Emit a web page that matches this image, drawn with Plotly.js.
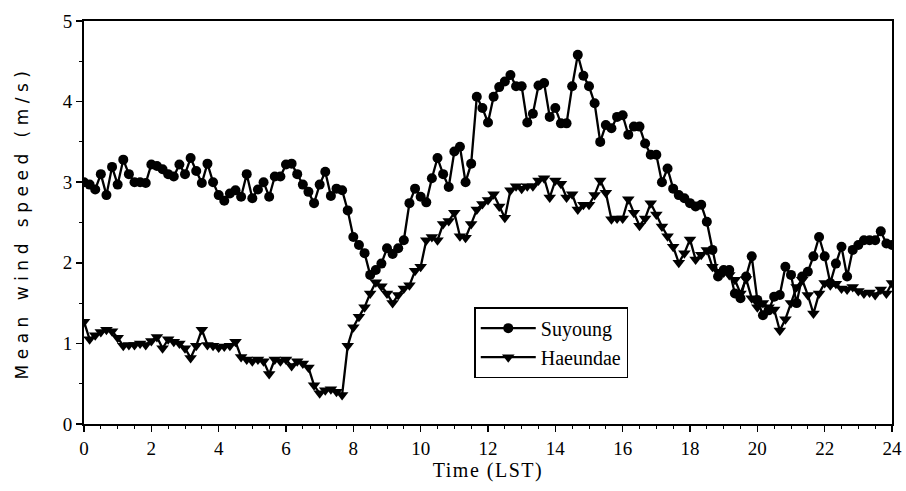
<!DOCTYPE html>
<html>
<head>
<meta charset="utf-8">
<script src="https://cdn.plot.ly/plotly-3.0.1.min.js"></script>
<style>
html,body{margin:0;padding:0;background:#fff;}
#chart{width:906px;height:491px;}
.ytitle{letter-spacing:5.5px;}
.xtitle{letter-spacing:1.5px;}
</style>
</head>
<body>
<div id="chart"></div>
<script>
// Time of each 10-minute mean, in minutes after midnight (LST)
const minutes = [0,10,20,30,40,50,60,70,80,90,100,110,120,130,140,150,160,170,180,190,200,210,220,230,
240,250,260,270,280,290,300,310,320,330,340,350,360,370,380,390,400,410,420,430,440,450,460,470,
480,490,500,510,520,530,540,550,560,570,580,590,600,610,620,630,640,650,660,670,680,690,700,710,
720,730,740,750,760,770,780,790,800,810,820,830,840,850,860,870,880,890,900,910,920,930,940,950,
960,970,980,990,1000,1010,1020,1030,1040,1050,1060,1070,1080,1090,1100,1110,1120,1130,1140,1150,1160,1170,
1180,1190,1200,1210,1220,1230,1240,1250,1260,1270,1280,1290,1300,1310,1320,1330,1340,1350,1360,1370,1380,1390,
1400,1410,1420,1430,1440];

// Mean wind speed (m/s) at Suyoung
const suyoung = [3.0,2.97,2.91,3.1,2.84,3.19,2.97,3.28,3.1,3.0,3.0,2.99,
3.22,3.2,3.16,3.1,3.07,3.22,3.1,3.3,3.14,2.99,3.23,3.0,
2.84,2.77,2.86,2.9,2.82,3.1,2.8,2.91,3.0,2.82,3.07,3.07,
3.22,3.23,3.1,2.97,2.88,2.74,2.97,3.13,2.83,2.92,2.9,2.65,
2.32,2.22,2.12,1.85,1.91,1.99,2.18,2.11,2.18,2.28,2.74,2.92,
2.82,2.75,3.05,3.3,3.1,2.94,3.38,3.44,3.0,3.23,4.06,3.92,
3.74,4.06,4.18,4.25,4.33,4.19,4.19,3.74,3.85,4.2,4.23,3.81,
3.92,3.73,3.73,4.19,4.58,4.32,4.19,3.98,3.5,3.71,3.67,3.81,
3.83,3.59,3.69,3.69,3.48,3.34,3.34,3.0,3.17,2.92,2.84,2.8,
2.74,2.7,2.72,2.51,2.16,1.83,1.91,1.91,1.62,1.56,1.83,2.08,
1.54,1.35,1.41,1.58,1.6,1.95,1.85,1.5,1.83,1.89,2.08,2.32,
2.08,1.75,1.99,2.2,1.83,2.16,2.22,2.28,2.28,2.28,2.39,2.24,
2.22];

// Mean wind speed (m/s) at Haeundae
const haeundae = [1.27,1.05,1.1,1.14,1.17,1.15,
1.07,0.97,0.98,0.98,1.0,0.98,
1.03,1.08,0.94,1.05,1.02,1.0,
0.94,0.82,0.97,1.17,0.98,0.97,
0.95,0.96,0.97,1.02,0.83,0.8,
0.78,0.8,0.78,0.62,0.8,0.78,
0.8,0.72,0.78,0.75,0.7,0.48,
0.38,0.42,0.43,0.4,0.36,0.97,
1.2,1.33,1.45,1.62,1.76,1.71,
1.62,1.5,1.6,1.68,1.72,1.9,
1.95,2.28,2.32,2.28,2.48,2.52,
2.62,2.33,2.31,2.48,2.66,2.73,
2.78,2.85,2.7,2.56,2.9,2.95,
2.92,2.95,2.95,3.02,3.05,2.81,
3.02,2.98,2.81,2.85,2.66,2.72,
2.72,2.84,3.02,2.87,2.54,2.55,
2.55,2.79,2.62,2.46,2.55,2.74,
2.6,2.45,2.33,2.2,2.0,2.12,
2.29,2.04,2.1,2.16,1.95,1.89,
1.88,1.85,1.79,1.62,1.8,1.56,
1.45,1.5,1.45,1.42,1.16,1.3,
1.5,1.7,1.79,1.6,1.37,1.62,
1.75,1.72,1.74,1.68,1.67,1.7,
1.65,1.62,1.63,1.6,1.67,1.62,
1.75];

const xTickVals = [0,2,4,6,8,10,12,14,16,18,20,22,24];
const yTickVals = [0,1,2,3,4,5];
const seriesNames = ['Suyoung','Haeundae'];

const hours = minutes.map(m => m / 60);

const traces = [
  {x: hours, y: suyoung, name: seriesNames[0], type: 'scatter', mode: 'lines+markers',
   line: {color: '#000', width: 2.3}, marker: {symbol: 'circle', size: 10, color: '#000'}},
  {x: hours, y: haeundae, name: seriesNames[1], type: 'scatter', mode: 'lines+markers',
   line: {color: '#000', width: 2.3}, marker: {symbol: 'triangle-down', size: 11, color: '#000'}}
];

const layout = {
  width: 906, height: 491,
  margin: {l: 84, r: 14, t: 21, b: 67},
  paper_bgcolor: '#fff', plot_bgcolor: '#fff',
  showlegend: true,
  legend: {x: 0.483, y: 0.29, xanchor: 'left', yanchor: 'top',
    bordercolor: '#000', borderwidth: 1.5, bgcolor: '#fff',
    font: {family: 'Liberation Serif', size: 20, color: '#000'},
    itemwidth: 55, tracegroupgap: 4},
  xaxis: {range: [0, 24], tickvals: xTickVals, ticktext: xTickVals.map(String),
    showgrid: false, zeroline: false, showline: true, linecolor: '#000', linewidth: 2,
    mirror: true, ticks: 'outside', ticklen: 6, tickwidth: 1.5, tickcolor: '#000',
    minor: {dtick: 0.5, ticks: 'outside', ticklen: 3, tickwidth: 1, tickcolor: '#000', showgrid: false},
    tickfont: {family: 'Liberation Serif', size: 19, color: '#000'},
    title: {text: 'Time (LST)', font: {family: 'Liberation Serif', size: 20, color: '#000'}, standoff: 5}},
  yaxis: {range: [0, 5], tickvals: yTickVals, ticktext: yTickVals.map(String),
    showgrid: false, zeroline: false, showline: true, linecolor: '#000', linewidth: 2,
    mirror: true, ticks: 'outside', ticklen: 6, tickwidth: 1.5, tickcolor: '#000',
    minor: {dtick: 0.5, ticks: 'outside', ticklen: 3, tickwidth: 1, tickcolor: '#000', showgrid: false},
    tickfont: {family: 'Liberation Serif', size: 19, color: '#000'},
    title: {text: 'Mean wind speed (m/s)', font: {family: 'DejaVu Sans', size: 17, color: '#000'}, standoff: 30}}
};

Plotly.newPlot('chart', traces, layout, {staticPlot: true, displayModeBar: false});
</script>
</body>
</html>
